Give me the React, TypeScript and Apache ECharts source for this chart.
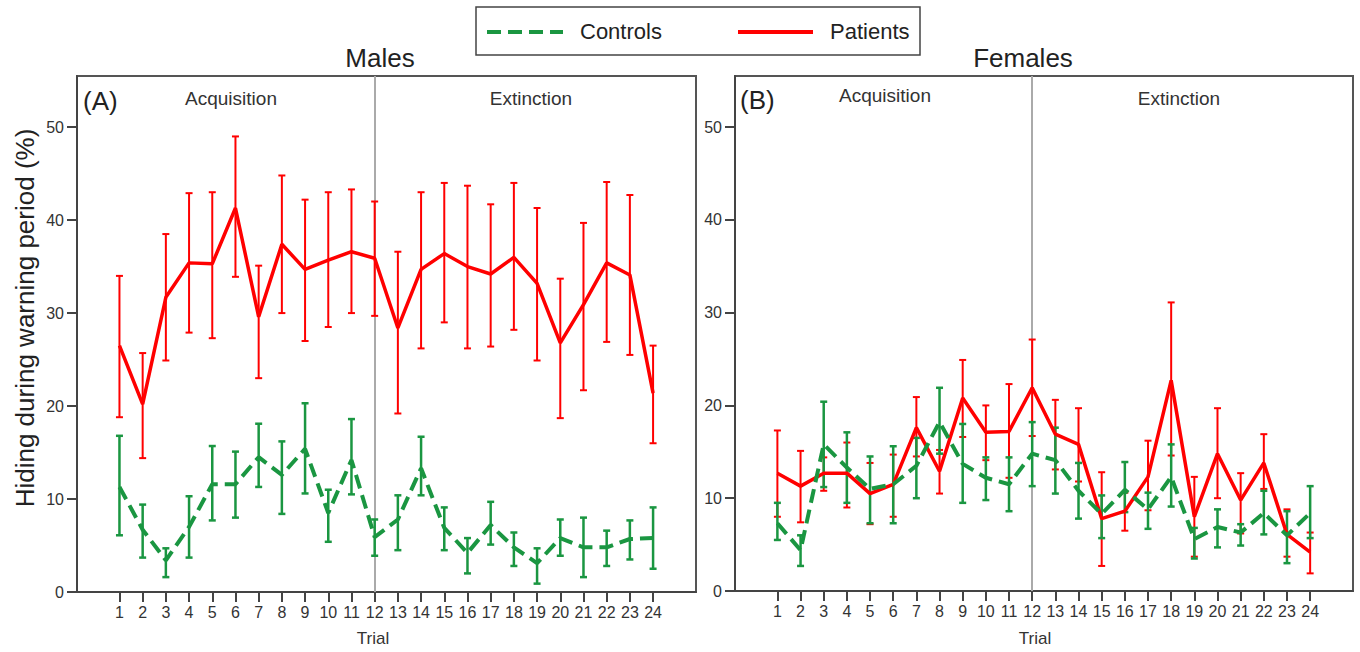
import { useEffect, useRef } from 'react';
import * as echarts from 'echarts';

const trials = [1, 2, 3, 4, 5, 6, 7, 8, 9, 10, 11, 12, 13, 14, 15, 16, 17, 18, 19, 20, 21, 22, 23, 24];
const yTicks = [0, 10, 20, 30, 40, 50];

// Males (A)
const malePatientsMean = [26.5, 20.2, 31.7, 35.4, 35.3, 41.3, 29.6, 37.4, 34.7, 35.7, 36.6, 35.9, 28.4, 34.7, 36.4, 35.0, 34.2, 36.0, 33.2, 26.8, 30.9, 35.4, 34.1, 21.4];
const malePatientsLow = [18.8, 14.4, 24.9, 27.9, 27.3, 33.9, 23.0, 30.0, 27.0, 28.5, 30.0, 29.7, 19.2, 26.2, 29.0, 26.2, 26.4, 28.2, 24.9, 18.7, 21.7, 26.9, 25.5, 16.0];
const malePatientsHigh = [34.0, 25.7, 38.5, 42.9, 43.0, 49.0, 35.1, 44.8, 42.2, 43.0, 43.3, 42.0, 36.6, 43.0, 44.0, 43.7, 41.7, 44.0, 41.3, 33.7, 39.7, 44.1, 42.7, 26.5];
const maleControlsMean = [11.3, 6.7, 3.4, 7.0, 11.6, 11.6, 14.5, 12.6, 15.4, 8.5, 14.2, 5.9, 7.8, 13.3, 6.9, 4.2, 7.2, 4.8, 3.1, 5.8, 4.8, 4.8, 5.7, 5.8];
const maleControlsLow = [6.1, 3.7, 1.6, 3.7, 7.7, 8.0, 11.3, 8.4, 10.6, 5.4, 10.5, 3.9, 4.5, 10.4, 4.5, 2.0, 5.1, 2.8, 0.9, 3.9, 1.6, 2.8, 3.5, 2.5];
const maleControlsHigh = [16.8, 9.4, 4.7, 10.3, 15.7, 15.1, 18.1, 16.2, 20.3, 11.0, 18.6, 7.8, 10.4, 16.7, 9.1, 5.8, 9.7, 6.4, 4.7, 7.8, 8.0, 6.6, 7.7, 9.1];

// Females (B)
const femalePatientsMean = [12.7, 11.3, 12.7, 12.7, 10.5, 11.5, 17.6, 12.9, 20.8, 17.1, 17.2, 21.9, 16.9, 15.8, 7.8, 8.6, 12.3, 22.7, 8.0, 14.8, 9.8, 13.8, 6.1, 4.2];
const femalePatientsLow = [8.0, 7.4, 10.8, 9.0, 7.2, 8.0, 14.5, 10.5, 16.6, 14.1, 12.2, 16.7, 13.1, 11.8, 2.7, 6.5, 8.7, 14.6, 3.7, 10.0, 6.2, 11.0, 3.7, 1.9];
const femalePatientsHigh = [17.3, 15.1, 14.4, 16.0, 13.8, 14.7, 20.9, 15.2, 24.9, 20.0, 22.3, 27.1, 20.6, 19.7, 12.8, 10.6, 16.2, 31.1, 12.3, 19.7, 12.7, 16.9, 8.8, 6.3];
const femaleControlsMean = [7.3, 4.4, 15.8, 13.3, 11.0, 11.5, 13.5, 18.2, 13.7, 12.2, 11.5, 14.8, 14.1, 10.8, 8.3, 10.9, 8.8, 12.3, 5.6, 6.9, 6.3, 8.4, 6.0, 8.4];
const femaleControlsLow = [5.5, 2.7, 11.2, 9.5, 7.3, 7.3, 10.0, 14.8, 9.5, 9.8, 8.6, 11.3, 10.5, 7.8, 5.7, 8.5, 6.7, 9.1, 3.5, 4.7, 4.9, 6.1, 3.0, 5.7];
const femaleControlsHigh = [9.5, 6.0, 20.4, 17.1, 14.5, 15.6, 16.5, 21.9, 18.0, 14.4, 14.4, 18.2, 17.6, 13.8, 10.3, 13.9, 10.6, 15.8, 6.8, 8.8, 7.2, 10.8, 8.6, 11.3];

const phaseBoundary = 12;
const panelTitles = ['Males', 'Females'];
const panelLabels = ['(A)', '(B)'];
const phaseLabels = ['Acquisition', 'Extinction'];
const legendNames = ['Controls', 'Patients'];
const yAxisTitle = 'Hiding during warning period (%)';
const xAxisTitle = 'Trial';

const RED = '#ff0000';
const GREEN = '#1a9641';
const FONT = 'Liberation Sans, Arial, sans-serif';
const AXIS = '#444';

function errorBarRender(color: string, lineWidth: number) {
  return (_params: any, api: any) => {
    const x = api.value(0);
    const lo = api.value(1);
    const hi = api.value(2);
    const top = api.coord([x, hi]);
    const bot = api.coord([x, lo]);
    const hw = 3.5;
    const style = { stroke: color, lineWidth };
    return {
      type: 'group',
      children: [
        { type: 'line', shape: { x1: top[0], y1: top[1], x2: bot[0], y2: bot[1] }, style },
        { type: 'line', shape: { x1: top[0] - hw, y1: top[1], x2: top[0] + hw, y2: top[1] }, style },
        { type: 'line', shape: { x1: bot[0] - hw, y1: bot[1], x2: bot[0] + hw, y2: bot[1] }, style },
      ],
    };
  };
}

function zip2(xs: number[], ys: number[]) {
  return xs.map((x, i) => [x, ys[i]]);
}
function zip3(xs: number[], a: number[], b: number[]) {
  return xs.map((x, i) => [x, a[i], b[i]]);
}

function panelSeries(idx: number, pm: number[], pl: number[], ph: number[], cm: number[], cl: number[], ch: number[]) {
  return [
    {
      type: 'custom',
      xAxisIndex: idx,
      yAxisIndex: idx,
      renderItem: errorBarRender(RED, 2),
      encode: { x: 0, y: [1, 2] },
      data: zip3(trials, pl, ph),
      z: 2,
    },
    {
      type: 'custom',
      xAxisIndex: idx,
      yAxisIndex: idx,
      renderItem: errorBarRender(GREEN, 2.5),
      encode: { x: 0, y: [1, 2] },
      data: zip3(trials, cl, ch),
      z: 3,
    },
    {
      name: legendNames[1],
      type: 'line',
      xAxisIndex: idx,
      yAxisIndex: idx,
      data: zip2(trials, pm),
      symbol: 'none',
      lineStyle: { color: RED, width: 3.5 },
      itemStyle: { color: RED },
      z: 4,
      markLine: {
        silent: true,
        z: 1,
        symbol: ['none', 'none'],
        label: { show: false },
        lineStyle: { color: '#aaa', width: 2, type: 'solid' },
        data: [{ xAxis: phaseBoundary }],
      },
    },
    {
      name: legendNames[0],
      type: 'line',
      xAxisIndex: idx,
      yAxisIndex: idx,
      data: zip2(trials, cm),
      symbol: 'none',
      lineStyle: { color: GREEN, width: 4, type: [14, 7] },
      itemStyle: { color: GREEN },
      z: 5,
    },
  ];
}

const grids = [
  { left: 77, top: 76, width: 619, height: 516 },
  { left: 735, top: 76, width: 618, height: 515 },
];

function txt(text: string, x: number, y: number, size: number, opts: any = {}) {
  return {
    type: 'text',
    x,
    y,
    rotation: opts.rotation || 0,
    style: {
      text,
      font: `${size}px ${FONT}`,
      fill: opts.fill || '#222',
      align: opts.align || 'center',
      verticalAlign: 'middle',
      textAlign: opts.align || 'center',
      textVerticalAlign: 'middle',
    },
    z: 10,
  };
}

export default function App() {
  const ref = useRef<HTMLDivElement>(null);
  useEffect(() => {
    const chart = echarts.init(ref.current!, null, { renderer: 'svg' });
    const option: any = {
      animation: false,
      backgroundColor: '#fff',
      grid: grids.map((g) => ({ ...g, show: true, borderColor: '#555', borderWidth: 2, backgroundColor: 'transparent' })),
      xAxis: grids.map((_, i) => ({
        type: 'value',
        gridIndex: i,
        min: -0.83,
        max: 25.85,
        splitLine: { show: false },
        axisLine: { show: true, onZero: false, lineStyle: { color: AXIS, width: 2 } },
        axisTick: { show: true, customValues: trials, length: 10, lineStyle: { color: AXIS, width: 2 } },
        axisLabel: { customValues: trials, fontSize: 16, color: '#333', margin: 12, fontFamily: FONT },
      })),
      yAxis: grids.map((_, i) => ({
        type: 'value',
        gridIndex: i,
        min: 0,
        max: 55.5,
        splitLine: { show: false },
        axisLine: { show: true, onZero: false, lineStyle: { color: AXIS, width: 2 } },
        axisTick: { show: true, customValues: yTicks, length: 10, lineStyle: { color: AXIS, width: 2 } },
        axisLabel: { customValues: yTicks, fontSize: 16, color: '#333', margin: 13, fontFamily: FONT },
      })),
      series: [
        ...panelSeries(0, malePatientsMean, malePatientsLow, malePatientsHigh, maleControlsMean, maleControlsLow, maleControlsHigh),
        ...panelSeries(1, femalePatientsMean, femalePatientsLow, femalePatientsHigh, femaleControlsMean, femaleControlsLow, femaleControlsHigh),
      ],
      graphic: [
        // legend box
        { type: 'rect', shape: { x: 476, y: 7, width: 444, height: 48 }, style: { fill: '#fff', stroke: '#444', lineWidth: 1.5 }, z: 9 },
        { type: 'line', shape: { x1: 487, y1: 32, x2: 563, y2: 32 }, style: { stroke: GREEN, lineWidth: 4, lineDash: [14, 7] }, z: 10 },
        txt(legendNames[0], 580, 31, 22, { align: 'left' }),
        { type: 'line', shape: { x1: 738, y1: 32, x2: 813, y2: 32 }, style: { stroke: RED, lineWidth: 4 }, z: 10 },
        txt(legendNames[1], 830, 31, 22, { align: 'left' }),
        // titles
        txt(panelTitles[0], 380, 58, 26),
        txt(panelTitles[1], 1023, 58, 26),
        // panel labels
        txt(panelLabels[0], 83, 101, 26, { align: 'left' }),
        txt(panelLabels[1], 740, 100, 26, { align: 'left' }),
        txt(phaseLabels[0], 231, 98, 19, { fill: '#333' }),
        txt(phaseLabels[1], 531, 98, 19, { fill: '#333' }),
        txt(phaseLabels[0], 885, 95, 19, { fill: '#333' }),
        txt(phaseLabels[1], 1179, 98, 19, { fill: '#333' }),
        // axis titles
        txt(xAxisTitle, 373, 638, 17, { fill: '#333' }),
        txt(xAxisTitle, 1035, 638, 17, { fill: '#333' }),
        txt(yAxisTitle, 25, 318, 26, { rotation: Math.PI / 2 }),
      ],
    };
    chart.setOption(option);
    return () => chart.dispose();
  }, []);
  return <div ref={ref} style={{ position: 'fixed', left: 0, top: 0, width: 1360, height: 652 }} />;
}
